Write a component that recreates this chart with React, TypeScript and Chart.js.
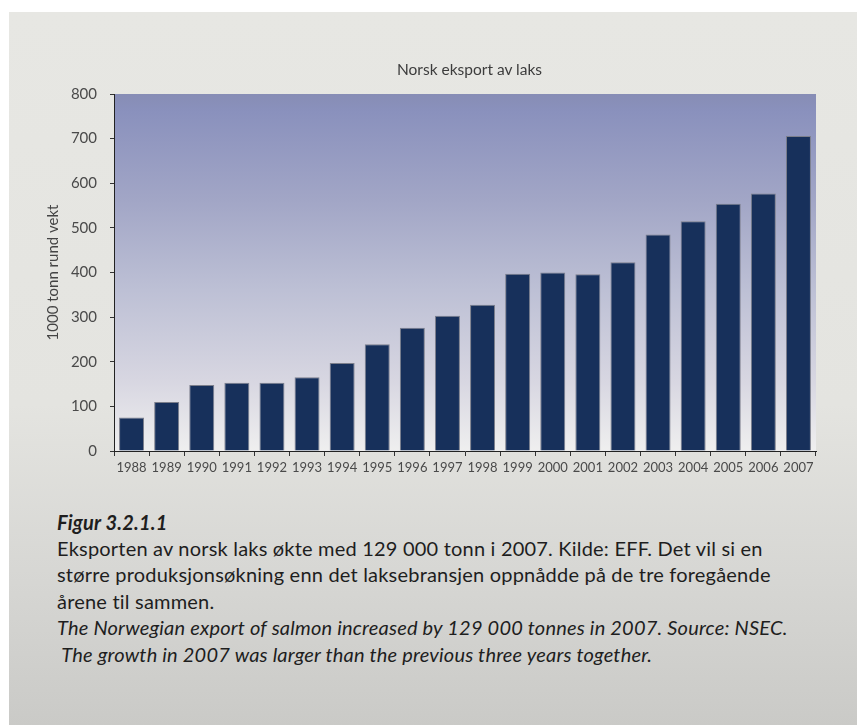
import React, { useEffect, useRef } from "react";
import { Chart, registerables } from "chart.js";

Chart.register(...registerables);

const years: string[] = [
  "1988", "1989", "1990", "1991", "1992", "1993", "1994", "1995", "1996", "1997",
  "1998", "1999", "2000", "2001", "2002", "2003", "2004", "2005", "2006", "2007",
];
const exportValues: number[] = [
  75, 110, 148, 153, 153, 165, 197, 239, 276, 303,
  328, 397, 400, 396, 423, 485, 515, 554, 577, 706,
];
const yTicks: number[] = [0, 100, 200, 300, 400, 500, 600, 700, 800];

const chartTitle = "Norsk eksport av laks";
const yAxisTitle = "1000 tonn rund vekt";
const figureLabel = "Figur 3.2.1.1";
const captionNo: string[] = [
  "Eksporten av norsk laks økte med 129 000 tonn i 2007. Kilde: EFF. Det vil si en",
  "større produksjonsøkning enn det laksebransjen oppnådde på de tre foregående",
  "årene til sammen.",
];
const captionEn: string[] = [
  "The Norwegian export of salmon increased by 129 000 tonnes in 2007. Source: NSEC.",
  " The growth in 2007 was larger than the previous three years together.",
];

const FONT = "Lato, 'Open Sans', sans-serif";

const plotBg = {
  id: "plotBg",
  beforeDraw(chart: any) {
    const { ctx, chartArea } = chart;
    if (!chartArea) return;
    const { left, top, right, bottom } = chartArea;
    const g = ctx.createLinearGradient(0, top, 0, bottom);
    g.addColorStop(0, "#878db5");
    g.addColorStop(0.05, "#8a91bd");
    g.addColorStop(0.3, "#a2a6c6");
    g.addColorStop(0.55, "#bdc0d5");
    g.addColorStop(0.8, "#d7d6e1");
    g.addColorStop(1, "#efefef");
    ctx.save();
    ctx.fillStyle = g;
    ctx.fillRect(left, top, right - left, bottom - top);
    ctx.restore();
  },
};

export default function App() {
  const ref = useRef<HTMLCanvasElement | null>(null);

  useEffect(() => {
    if (!ref.current) return;
    const chart = new Chart(ref.current, {
      type: "bar",
      data: {
        labels: years,
        datasets: [
          {
            data: exportValues,
            backgroundColor: "#17305b",
            borderColor: "#7c7f8c",
            borderWidth: 1,
            categoryPercentage: 1,
            barPercentage: 0.712,
          },
        ],
      },
      options: {
        animation: false,
        responsive: false,
        layout: { padding: { left: 43, right: 42, top: 94, bottom: 0 } },
        plugins: {
          legend: { display: false },
          title: { display: false },
          tooltip: { enabled: false },
        },
        scales: {
          x: {
            afterFit: (s: any) => {
              s.height = 39;
            },
            border: { display: true, color: "#222", width: 1 },
            grid: {
              display: true,
              drawOnChartArea: false,
              drawTicks: true,
              tickLength: 5,
              color: "#333",
              offset: true,
            },
            ticks: {
              color: "#4a4a4a",
              font: { family: FONT, size: 13 },
              padding: 4,
              maxRotation: 0,
              autoSkip: false,
            },
          },
          y: {
            min: 0,
            max: 800,
            afterFit: (s: any) => {
              s.width = 71;
            },
            afterBuildTicks: (s: any) => {
              s.ticks = yTicks.map((v) => ({ value: v }));
            },
            border: { display: true, color: "#222", width: 1 },
            grid: {
              display: true,
              drawOnChartArea: false,
              drawTicks: true,
              tickLength: 4,
              color: "#333",
            },
            ticks: {
              color: "#4a4a4a",
              font: { family: FONT, size: 15 },
              padding: 13,
            },
            title: {
              display: true,
              text: yAxisTitle,
              color: "#444",
              font: { family: FONT, size: 15 },
              padding: 1,
            },
          },
        },
      },
      plugins: [plotBg],
    });
    return () => chart.destroy();
  }, []);

  return (
    <div style={{ position: "absolute", left: 0, top: 0, width: 858, height: 725, background: "#ffffff", overflow: "hidden" }}>
      <div
        style={{
          position: "absolute",
          left: 9,
          top: 12,
          width: 848,
          height: 713,
          background: "linear-gradient(#e7e7e3 0%, #e4e4e0 55%, #d6d6d3 80%, #cacac7 100%)",
        }}
      />
      <canvas ref={ref} width={858} height={490} style={{ position: "absolute", left: 0, top: 0, width: 858, height: 490 }} />
      <div
        style={{
          position: "absolute",
          left: 369.5,
          top: 59,
          width: 200,
          textAlign: "center",
          fontFamily: FONT,
          fontSize: 15.5,
          lineHeight: "20px",
          color: "#3c3c3c",
          whiteSpace: "nowrap",
        }}
      >
        {chartTitle}
      </div>
      <div
        style={{
          position: "absolute",
          left: 57,
          top: 508.5,
          fontFamily: FONT,
          fontSize: 20,
          letterSpacing: "0.2px",
          lineHeight: "26.4px",
          color: "#1e1e1e",
          whiteSpace: "pre",
        }}
      >
        <div style={{ fontWeight: "bold", fontStyle: "italic" }}>{figureLabel}</div>
        {captionNo.map((t, i) => (
          <div key={"no" + i}>{t}</div>
        ))}
        {captionEn.map((t, i) => (
          <div key={"en" + i} style={{ fontStyle: "italic" }}>
            {t}
          </div>
        ))}
      </div>
    </div>
  );
}
